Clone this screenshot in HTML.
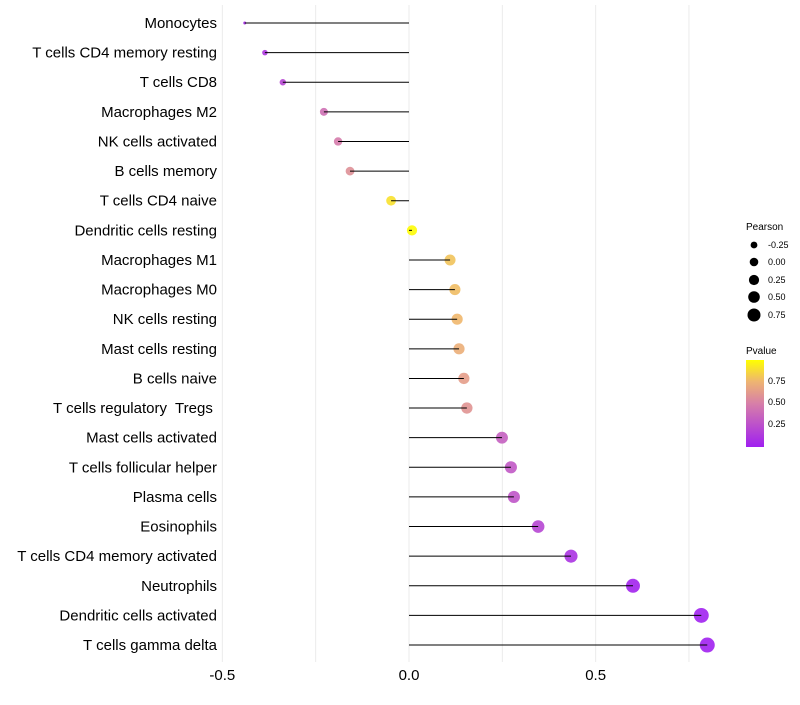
<!DOCTYPE html>
<html><head><meta charset="utf-8"><style>
body{margin:0;background:#fff;font-family:"Liberation Sans",sans-serif}
text{white-space:pre}
</style></head><body>
<svg id="c" width="800" height="700" xmlns="http://www.w3.org/2000/svg">
<defs><linearGradient id="pg" x1="0" y1="1" x2="0" y2="0">
<stop offset="0" stop-color="#a020f0"/><stop offset="0.5" stop-color="#d77fa8"/><stop offset="0.75" stop-color="#eeb472"/><stop offset="1" stop-color="#ffff00"/></linearGradient></defs>
<g id="grid"></g><g id="marks"></g><g id="labels"></g>
<g font-size="9" fill="#000">
<text x="746" y="230" font-size="10">Pearson</text>
<circle cx="754" cy="245" r="3.4"/><text x="768" y="248">-0.25</text>
<circle cx="754" cy="262" r="4.3"/><text x="768" y="265">0.00</text>
<circle cx="754" cy="280" r="5.1"/><text x="768" y="283">0.25</text>
<circle cx="754" cy="297" r="5.8"/><text x="768" y="300">0.50</text>
<circle cx="754" cy="315" r="6.5"/><text x="768" y="318">0.75</text>
</g>
<g font-size="9">
<text x="746" y="354" font-size="10">Pvalue</text>
<rect x="746" y="360" width="18" height="87" fill="url(#pg)"/>
<text x="768" y="384">0.75</text><text x="768" y="405">0.50</text><text x="768" y="427">0.25</text>
</g>
</svg>
<script>
const categories=["Monocytes","T cells CD4 memory resting","T cells CD8","Macrophages M2","NK cells activated","B cells memory","T cells CD4 naive","Dendritic cells resting","Macrophages M1","Macrophages M0","NK cells resting","Mast cells resting","B cells naive","T cells regulatory  Tregs ","Mast cells activated","T cells follicular helper","Plasma cells","Eosinophils","T cells CD4 memory activated","Neutrophils","Dendritic cells activated","T cells gamma delta"];
const pearson=[-0.44,-0.386,-0.338,-0.228,-0.19,-0.158,-0.048,0.008,0.11,0.123,0.129,0.134,0.147,0.155,0.249,0.273,0.281,0.346,0.434,0.60,0.783,0.799];
const pvalues=[0.05,0.12,0.2,0.42,0.48,0.58,0.9,0.99,0.8,0.78,0.76,0.72,0.64,0.6,0.33,0.3,0.28,0.2,0.1,0.02,0.01,0.005];
const xTicks=[-0.5,0,0.5];
const xTickLabels=["-0.5","0.0","0.5"];
const NS="http://www.w3.org/2000/svg";
const x=v=>409+v*373.3, y=i=>23+i*29.62;
const rad=p=>1.5+6.0*Math.sqrt(Math.max(0,(p+0.44)/1.24));
function col(p){const st=[[0,[160,32,240]],[0.5,[215,127,168]],[0.75,[238,180,114]],[1,[255,255,0]]];
for(let k=1;k<st.length;k++){if(p<=st[k][0]){const a=st[k-1],b=st[k],t=(p-a[0])/(b[0]-a[0]);return "rgb("+a[1].map((c,j)=>Math.round(c+(b[1][j]-c)*t)).join(",")+")";}}return "rgb(255,255,0)";}
function mk(t,a,p){const e=document.createElementNS(NS,t);for(const k in a)e.setAttribute(k,a[k]);p.appendChild(e);return e;}
const grid=document.getElementById('grid'),marks=document.getElementById('marks'),labels=document.getElementById('labels');
[-0.5,-0.25,0,0.25,0.5,0.75].forEach(v=>{const l=mk('line',{x1:x(v),x2:x(v),y1:5,y2:662,stroke:'#ebebeb','stroke-width':1},grid);

});
xTicks.forEach((v,i)=>{const t=mk('text',{x:x(v),y:680,'text-anchor':'middle','font-size':15,fill:'#000'},labels);t.textContent=xTickLabels[i];

});
categories.forEach((c,i)=>{
const t=mk('text',{x:217,y:y(i)+5,'text-anchor':'end','font-size':15,fill:'#000'},labels);t.textContent=c;


const d=mk('circle',{cx:x(pearson[i]),cy:y(i),r:rad(pearson[i]),fill:col(pvalues[i]),'fill-opacity':0.9},marks);


const l=mk('line',{x1:x(0),x2:x(pearson[i]),y1:y(i),y2:y(i),stroke:'#000','stroke-width':1},marks);


});
</script>
</body></html>
